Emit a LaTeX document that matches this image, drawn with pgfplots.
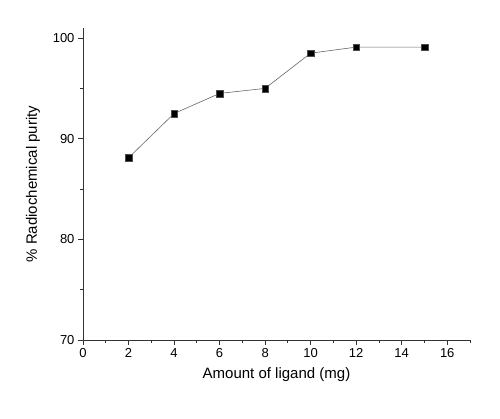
\documentclass[border=0pt]{standalone}
\usepackage{fontspec}
\setmainfont{Liberation Sans}
\usepackage{pgfplots}
\pgfplotsset{compat=1.18}
\usetikzlibrary{calc}
\begin{document}
\begin{tikzpicture}
\begin{axis}[
  scale only axis,
  width=387pt, height=312pt,
  xmin=0, xmax=17, ymin=70, ymax=101,
  axis lines*=left,
  axis line style={-, line width=0.8pt, black!80},
  xtick={0,2,...,16}, ytick={70,80,90,100},
  minor xtick={1,3,...,15,17}, minor ytick={75,85,95},
  tick align=outside, tick pos=left,
  major tick length=5pt, minor tick length=3pt,
  tick style={line width=0.8pt, black!80},
  every tick label/.append style={font=\fontsize{13}{15}\selectfont},
  /pgf/number format/assume math mode=true,
  xlabel={Amount of ligand (mg)},
  ylabel={\% Radiochemical purity},
  label style={font=\fontsize{15}{17}\selectfont},
  xlabel style={yshift=-3pt},
  ylabel style={yshift=6pt},
  clip=false,
]
\addplot[black!60, line width=0.6pt, mark=square*, mark size=3.3pt,
  mark options={fill=black, draw=black!70, line width=0.3pt}] coordinates {
  (2,88.1) (4,92.5) (6,94.5) (8,95.0) (10,98.5) (12,99.1) (15,99.1)
};
\end{axis}
\path ($(current axis.south west)+(-83pt,-79pt)$) rectangle ($(current axis.north east)+(30pt,28pt)$);
\end{tikzpicture}
\end{document}
